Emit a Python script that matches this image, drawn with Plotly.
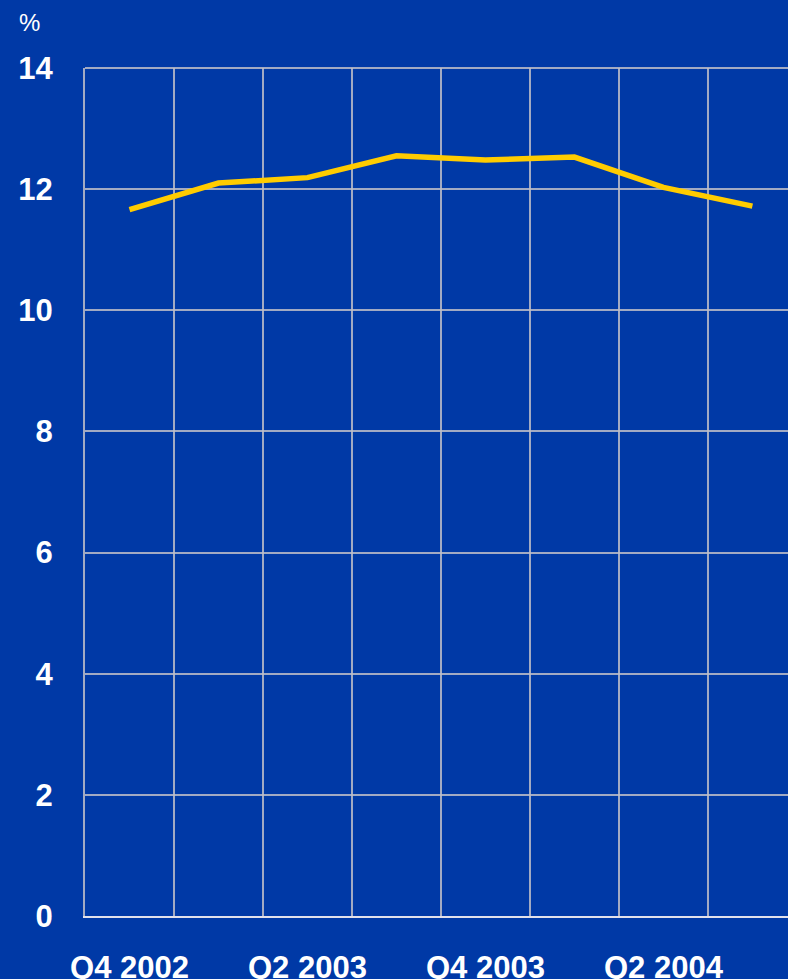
import plotly.graph_objects as go

quarters = ["Q4 2002", "Q1 2003", "Q2 2003", "Q3 2003", "Q4 2003", "Q1 2004", "Q2 2004", "Q3 2004"]
values = [11.66, 12.10, 12.19, 12.55, 12.48, 12.53, 12.03, 11.72]
label_quarters = ["Q4 2002", "Q2 2003", "Q4 2003", "Q2 2004"]
y_ticks = [0, 2, 4, 6, 8, 10, 12, 14]

BG = "#0039A6"
GRID = "rgba(190,190,200,0.85)"
FONT = "Liberation Sans"

xpos = list(range(len(quarters)))
label_pos = [quarters.index(q) for q in label_quarters]
boundaries = [i + 0.5 for i in range(len(quarters))]

fig = go.Figure()
fig.add_trace(go.Scatter(
    x=xpos, y=values, mode="lines",
    line=dict(color="#FFCC00", width=5.5),
    hoverinfo="skip", showlegend=False,
))

fig.update_layout(
    width=788, height=979,
    margin=dict(l=85, r=0, t=68, b=63),
    paper_bgcolor=BG, plot_bgcolor=BG,
    font=dict(family=FONT, color="white"),
    showlegend=False,
)

fig.update_xaxes(
    range=[-0.5, 7.4],
    tickvals=label_pos, ticktext=label_quarters,
    tickfont=dict(family=FONT, size=31, color="white", weight="bold"),
    showgrid=False, ticks="", ticklabelstandoff=23,
    minor=dict(tickvals=boundaries, showgrid=True, gridcolor=GRID, gridwidth=2),
    showline=True, linecolor="rgba(225,225,235,1)", linewidth=2,
    zeroline=False, fixedrange=True, automargin=False,
)

fig.update_yaxes(
    range=[0, 14],
    tickvals=y_ticks,
    tickfont=dict(family=FONT, size=31, color="white", weight="bold"),
    showgrid=True, gridcolor=GRID, gridwidth=2,
    ticks="", ticklabelstandoff=24,
    showline=True, linecolor=GRID, linewidth=2,
    zeroline=False, fixedrange=True, automargin=False,
)

# top border of the grid (gridline at the top of the value range)
fig.add_shape(
    type="line", xref="paper", yref="y domain", x0=0, x1=1, y0=1, y1=1,
    line=dict(color=GRID, width=2), layer="below",
)

fig.add_annotation(
    text="%", xref="paper", yref="paper", x=-0.079, y=1.054,
    showarrow=False, xanchor="center", yanchor="middle",
    font=dict(family=FONT, size=24, color="white"),
)

fig.write_html(
    "out.html",
    config={"displayModeBar": False},
    post_script="document.body.style.margin='0';document.body.style.background='" + BG + "';",
)
